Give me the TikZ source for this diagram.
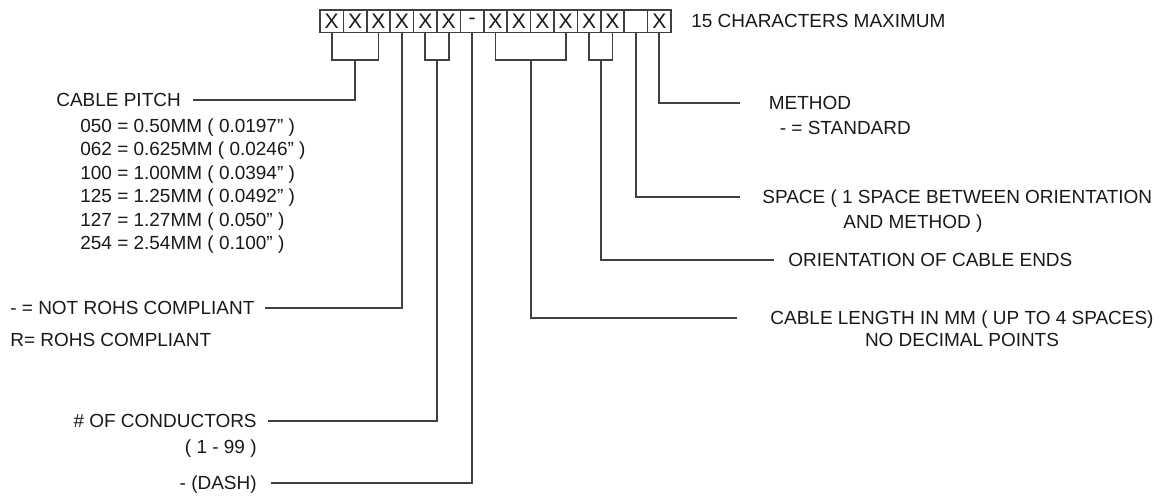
\documentclass[tikz,border=0pt]{standalone}
\usepackage{fontspec}
\setmainfont{Liberation Sans}

\begin{document}
\begin{tikzpicture}[x=0.02cm,y=-0.02cm,
  cell/.style={draw=black!75,line width=0.8pt,minimum width=0.468cm,minimum height=0.45cm,inner sep=0pt,font=\fontsize{12}{13}\selectfont,text=black!90},
  lab/.style={inner sep=0pt,text height=7.7pt,text depth=0pt,font=\fontsize{10.8}{13}\selectfont,text=black!90},
  ln/.style={draw=black!75,line width=1.1pt}]
\useasboundingbox (0,0) rectangle (1171,498);
% part number cells
\foreach \c [count=\i] in {X,X,X,X,X,X,-,X,X,X,X,X,X,{},X}
  \node[cell] (b\i) at (308.3+23.4*\i,21.2) {\c};
\node[lab,anchor=west] (chars) at (691,20.7) {15 CHARACTERS MAXIMUM};
% left labels
\node[lab,anchor=west] (pitch) at (56,100) {CABLE PITCH};
\foreach \t [count=\i] in {050 = 0.50MM ( 0.0197'' ),062 = 0.625MM ( 0.0246'' ),100 = 1.00MM ( 0.0394'' ),125 = 1.25MM ( 0.0492'' ),127 = 1.27MM ( 0.050'' ),254 = 2.54MM ( 0.100'' )}
  \node[lab,anchor=west] (pv\i) at (80,102.2+23.5*\i) {\t};
\node[lab,anchor=west] (rohsn) at (10,308) {- = NOT ROHS COMPLIANT};
\node[lab,anchor=west] (rohsy) at (10,340) {R= ROHS COMPLIANT};
\node[lab,anchor=east] (cond) at (257,420.7) {\# OF CONDUCTORS};
\node[lab,anchor=east] (condr) at (257,446.7) {( 1 - 99 )};
\node[lab,anchor=east] (dash) at (257,483) {- (DASH)};
% right labels
\node[lab,anchor=west] (meth) at (768.5,103) {METHOD};
\node[lab,anchor=west] (meths) at (779.5,128) {- = STANDARD};
\node[lab,anchor=west] (spc) at (762,196.7) {SPACE ( 1 SPACE BETWEEN ORIENTATION};
\node[lab,anchor=west] (spc2) at (843,221.7) {AND METHOD )};
\node[lab,anchor=west] (ori) at (788,260) {ORIENTATION OF CABLE ENDS};
\node[lab] (len) at (962,318) {CABLE LENGTH IN MM ( UP TO 4 SPACES)};
\node[lab] (len2) at (962,340) {NO DECIMAL POINTS};
% brackets and leaders
\coordinate (j1) at (b2.south |- 0,60);
\coordinate (j2) at (437,60);
\coordinate (j3) at (530.6,60);
\coordinate (j4) at (600.8,60);
\draw[ln] (b1.south) |- (j1) -| (b3.south);
\draw[ln,shorten >=0.24cm] (j1) |- (pitch);
\draw[ln,shorten >=0.2cm] (b4.south) |- (rohsn);
\draw[ln] (b5.south) |- (j2) -| (b6.south);
\draw[ln,shorten >=0.22cm] (j2) |- (cond);
\draw[ln,shorten >=0.28cm] (b7.south) |- (dash);
\draw[ln] (b8.south) |- (j3) -| (b11.south);
\draw[ln,shorten >=0.66cm] (j3) |- (len);
\draw[ln] (b12.south) |- (j4) -| (b13.south);
\draw[ln,shorten >=0.28cm] (j4) |- (ori);
\draw[ln,shorten >=0.44cm] (b14.south) |- (spc);
\draw[ln,shorten >=0.57cm] (b15.south) |- (meth);
\end{tikzpicture}
\end{document}
